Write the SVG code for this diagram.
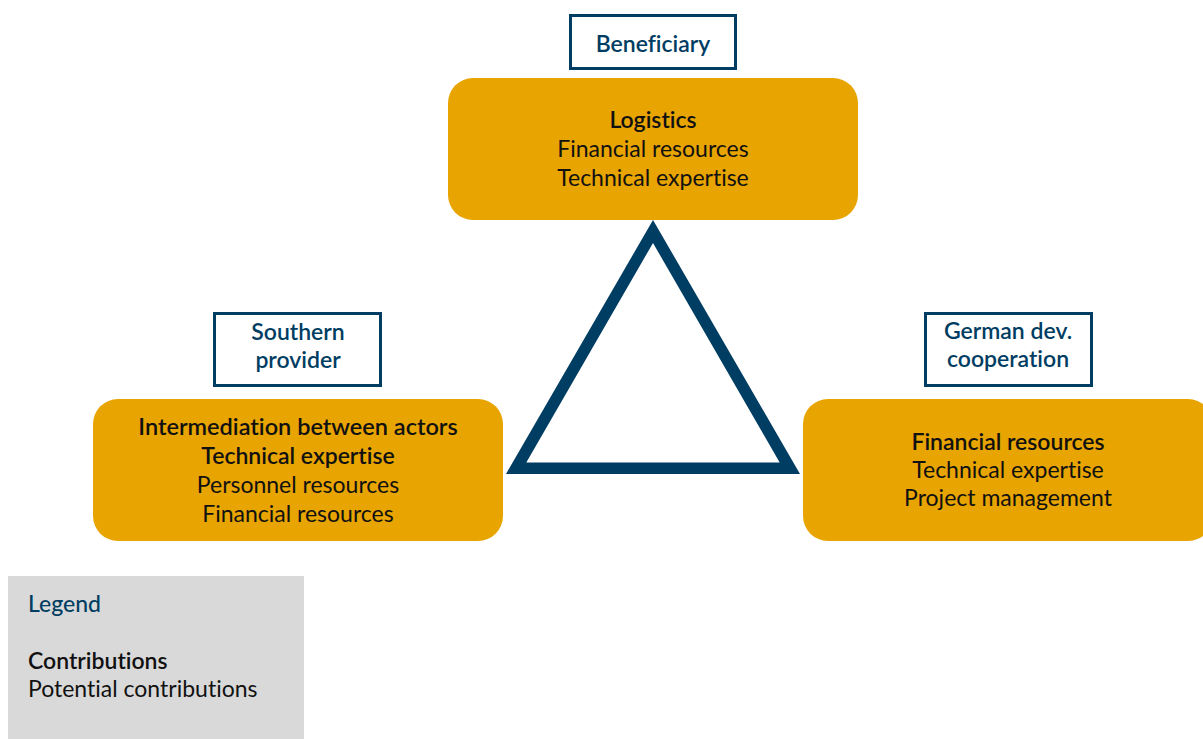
<svg xmlns="http://www.w3.org/2000/svg" width="1203" height="739" viewBox="0 0 1203 739">
<style>
text{font-family:Lato,"Open Sans","Noto Sans",sans-serif;font-size:23px;fill:#111;text-anchor:middle;font-variant-ligatures:none;font-feature-settings:"liga" 0,"clig" 0}
.b{font-weight:600}
.lbl{fill:#003d62;font-weight:600;font-size:23px}
.actor{fill:#fff;stroke:#003d62;stroke-width:3}
.box{fill:#e8a400}
</style>
<rect width="1203" height="739" fill="#fff"/>
<g id="connectors">
<path d="M653,220 L800,474 L506,474 Z M653,243 L526.3,462.5 L779.7,462.5 Z" fill="#003d62" fill-rule="evenodd"/>
</g>
<g id="beneficiary">
<rect class="actor" x="570.5" y="15.5" width="165" height="53"/>
<text class="lbl" x="653" y="52">Beneficiary</text>
<rect class="box" x="448" y="78" width="410" height="142" rx="25"/>
<text class="b" x="653" y="128">Logistics</text>
<text x="653" y="157">Financial resources</text>
<text x="653" y="186">Technical expertise</text>
</g>
<g id="southern-provider">
<rect class="actor" x="214.5" y="313.5" width="166" height="72"/>
<text class="lbl" x="298" y="340">Southern</text>
<text class="lbl" x="298" y="368">provider</text>
<rect class="box" x="93" y="399" width="410" height="142" rx="25"/>
<text class="b" x="298" y="435" style="font-size:23.5px">Intermediation between actors</text>
<text class="b" x="298" y="464">Technical expertise</text>
<text x="298" y="493">Personnel resources</text>
<text x="298" y="522">Financial resources</text>
</g>
<g id="german-dev-cooperation">
<rect class="actor" x="925.5" y="313.5" width="166" height="72"/>
<text class="lbl" x="1008" y="339">German dev.</text>
<text class="lbl" x="1008" y="367">cooperation</text>
<rect class="box" x="803" y="399" width="410" height="142" rx="25"/>
<text class="b" x="1008" y="450">Financial resources</text>
<text x="1008" y="478">Technical expertise</text>
<text x="1008" y="506">Project management</text>
</g>
<g id="legend">
<rect x="8" y="576" width="296" height="170" fill="#d9d9d9"/>
<text x="28" y="612" style="text-anchor:start;fill:#003d62;font-weight:500">Legend</text>
<text class="b" x="28" y="669" style="text-anchor:start">Contributions</text>
<text x="28" y="697" style="text-anchor:start">Potential contributions</text>
</g>
</svg>
